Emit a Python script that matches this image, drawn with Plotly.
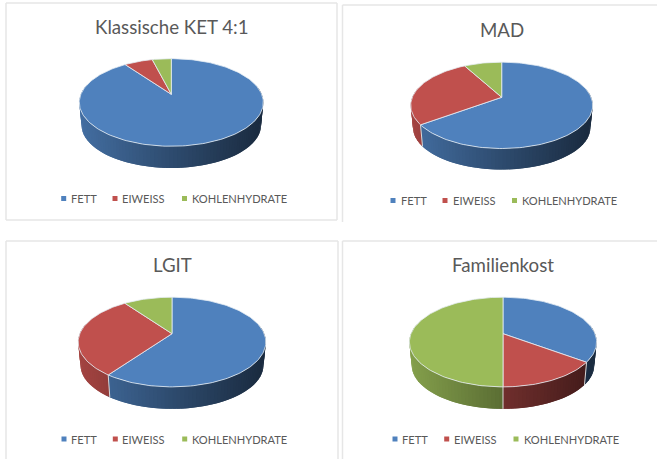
import numpy as np
import plotly.graph_objects as go

categories = ["FETT", "EIWEISS", "KOHLENHYDRATE"]
titles = ["Klassische KET 4:1", "MAD", "LGIT", "Familienkost"]
ket_values = [90, 6, 4]
mad_values = [65, 27, 8]
lgit_values = [60, 30, 10]
familie_values = [35, 15, 50]
all_values = [ket_values, mad_values, lgit_values, familie_values]

COLORS = [(79, 129, 189), (192, 80, 77), (155, 187, 89)]
TEXT = "#595959"
FONT = "Lato"
PERSP = 0.186

# panel geometry: apex x, apex y, rx, ry, depth, title xy, legend y, marker xs, label xs
panels = [
    dict(cx=171.3, cy=94.3, rx=90.4, ry=42.3, d=21.7, tx=171.7, ty=27, ly=198.5, mx=[63.7, 115, 184.5], lx=[71, 122, 192]),
    dict(cx=501.7, cy=97.3, rx=89.4, ry=41.7, d=21, tx=502, ty=30, ly=200.5, mx=[393, 445, 514.5], lx=[400.7, 452.7, 522]),
    dict(cx=172, cy=333.7, rx=92.2, ry=43.3, d=22, tx=172, ty=265, ly=439, mx=[64, 115.3, 184.7], lx=[71, 122.3, 192.3]),
    dict(cx=503, cy=333.7, rx=92.0, ry=43.3, d=22, tx=502.7, ty=265, ly=439, mx=[395, 446.7, 516], lx=[402, 453.7, 523.7]),
]

def project(p, theta):
    s = 1 / (1 + PERSP * np.cos(theta))
    return p["cx"] + p["rx"] * np.sin(theta) * s, p["cy"] - p["ry"] * np.cos(theta) * s

def base(p, x, y):
    return p["cx"] + (x - p["cx"]) * 0.975, p["cy"] + (y - p["cy"]) * 0.975 + p["d"] + 1.3

def shade(col, u):
    f = 0.85 - 0.26 * (u + 1) if u < 0 else 0.59 - 0.25 * u
    return "rgb(%d,%d,%d)" % tuple(int(c * f) for c in col)

fig = go.Figure()

def add_poly(x, y, fill, line, width):
    fig.add_trace(go.Scatter(x=list(x), y=list(y), mode="lines", fill="toself", fillcolor=fill,
                             line=dict(color=line, width=width), hoverinfo="skip", showlegend=False))

STEP = np.radians(2)
for p, vals, title in zip(panels, all_values, titles):
    total = sum(vals)
    edges = np.cumsum([0] + vals) / total * 2 * np.pi
    # side wall: each strip runs under the next one so no seams show
    for i, col in enumerate(COLORS):
        a0, a1 = max(edges[i], np.pi / 2 - 0.2), min(edges[i + 1], 3 * np.pi / 2 + 0.2)
        if a1 <= a0:
            continue
        n = max(1, int((a1 - a0) / STEP))
        ts = np.linspace(a0, a1, n + 1)
        for t0 in ts[:-1]:
            seg = np.linspace(t0, t0 + 2 * (a1 - a0) / n, 4)
            xa, ya = project(p, seg)
            xb, yb = base(p, xa, ya)
            c = shade(col, (xa[:2].mean() - p["cx"]) / p["rx"])
            add_poly([*xa, *xb[::-1], xa[0]], [*ya, *yb[::-1], ya[0]], c, "rgba(0,0,0,0)", 0)
    # slice seams on the wall
    for e in edges[1:-1]:
        if np.pi / 2 < e < 3 * np.pi / 2:
            xa, ya = project(p, e)
            xb, yb = base(p, xa, ya)
            fig.add_trace(go.Scatter(x=[xa, xb], y=[ya, yb], mode="lines", line=dict(color="#d9d9d9", width=1),
                                     hoverinfo="skip", showlegend=False))
    # top surface
    for i, col in enumerate(COLORS):
        ts = np.linspace(edges[i], edges[i + 1], max(3, int((edges[i + 1] - edges[i]) / np.radians(1.5))))
        xa, ya = project(p, ts)
        add_poly([p["cx"], *xa, p["cx"]], [p["cy"], *ya, p["cy"]], "rgb(%d,%d,%d)" % col, "#e6edf4", 0.8)
    # legend keys and labels
    for name, col, mx, lx in zip(categories, COLORS, p["mx"], p["lx"]):
        fig.add_trace(go.Scatter(x=[mx], y=[p["ly"]], mode="markers",
                                 marker=dict(symbol="square", size=5, color="rgb(%d,%d,%d)" % col),
                                 hoverinfo="skip", showlegend=False))
        fig.add_annotation(x=lx, y=p["ly"], text=name, showarrow=False, xanchor="left", yanchor="middle", xshift=-2,
                           font=dict(family=FONT, size=11.1, color=TEXT))
    fig.add_annotation(x=p["tx"], y=p["ty"], text=title, showarrow=False, xanchor="center", yanchor="middle",
                       font=dict(family=FONT, size=18.7, color=TEXT))

FRAME = "#e6e6e6"
frames = [([6, 337, 337, 6, 6], [3, 3, 220, 220, 3]),
          ([657, 342.5, 342.5], [5, 5, 222]),
          ([6, 6], [459, 241]), ([6, 338, 338], [241, 241, 459]),
          ([657, 342.5, 342.5], [241, 241, 459])]
shapes = []
for xs, ys in frames:
    for x0, x1, y0, y1 in zip(xs[:-1], xs[1:], ys[:-1], ys[1:]):
        shapes.append(dict(type="line", x0=x0, x1=x1, y0=y0, y1=y1, layer="below",
                           line=dict(color=FRAME, width=1.5)))

fig.update_layout(
    width=657, height=459, margin=dict(l=0, r=0, t=0, b=0), autosize=False,
    paper_bgcolor="white", plot_bgcolor="white", shapes=shapes,
    xaxis=dict(range=[0, 657], visible=False, fixedrange=True),
    yaxis=dict(range=[459, 0], visible=False, fixedrange=True),
)
fig.write_html("out.html", config=dict(displayModeBar=False),
               post_script="document.body.style.margin='0';")
